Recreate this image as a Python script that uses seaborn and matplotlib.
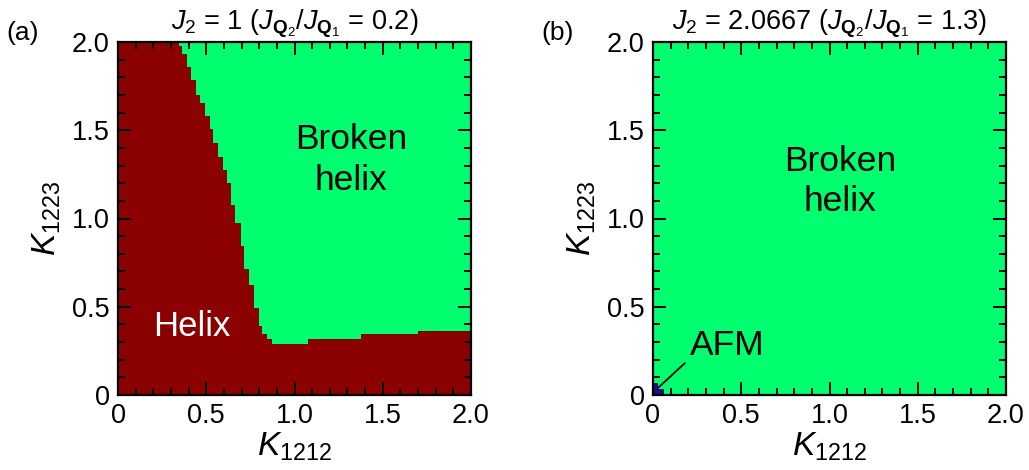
import numpy as np
import pandas as pd
import matplotlib
matplotlib.use("Agg")
import matplotlib.pyplot as plt
import seaborn as sns
from matplotlib.colors import ListedColormap
from matplotlib.ticker import FixedLocator

# panel (a): helix / broken-helix staircase boundary
# top edge (K1223) of each band, and how far the helix reaches in K1212 in that band
slope_y_top = [2.0, 1.977, 1.93, 1.86, 1.785, 1.70, 1.654, 1.58, 1.507, 1.428, 1.35,
               1.275, 1.20, 1.076, 0.976, 0.844, 0.714, 0.623, 0.493, 0.39, 0.344, 0.317]
slope_x = [0.345, 0.36, 0.39, 0.414, 0.44, 0.465, 0.493, 0.52, 0.54, 0.566, 0.595,
           0.617, 0.638, 0.667, 0.695, 0.714, 0.742, 0.77, 0.799, 0.816, 0.844, 0.873]
# helix floor along K1212 (right edge of each segment, height of helix below it)
floor_x_right = [1.075, 1.375, 1.70, 2.0]
floor_y = [0.29, 0.317, 0.345, 0.362]

# panel (b): small AFM corner
afm_y_top = [0.035, 0.07]
afm_x = [0.06, 0.03]

tick_vals = [0, 0.5, 1.0, 1.5, 2.0]
tick_labels = ["0", "0.5", "1.0", "1.5", "2.0"]
titles = [r"$J_2$ = 1 ($J_{\mathbf{Q}_2}/J_{\mathbf{Q}_1}$ = 0.2)",
          r"$J_2$ = 2.0667 ($J_{\mathbf{Q}_2}/J_{\mathbf{Q}_1}$ = 1.3)"]
panel_tags = ["(a)", "(b)"]

# phase codes: 0 helix, 1 broken helix, 2 AFM
phase_colors = ["#8b0000", "#00ff6e", "#1c0c82"]

STEP = 0.005
N = int(round(2.0 / STEP))
centers = (np.arange(N) + 0.5) * STEP
S = N / 2.0  # data -> heatmap cell coordinates


def grid_a():
    tops = np.array(slope_y_top)
    g = np.ones((N, N), dtype=int)
    for i, y in enumerate(centers):
        band = max(int(np.sum(tops >= y)) - 1, 0)
        for j, x in enumerate(centers):
            seg = min(int(np.searchsorted(floor_x_right, x)), len(floor_y) - 1)
            if x < slope_x[band] or y < floor_y[seg]:
                g[i, j] = 0
    return pd.DataFrame(g, index=centers, columns=centers)


def grid_b():
    g = np.ones((N, N), dtype=int)
    for i, y in enumerate(centers):
        for top, xr in zip(afm_y_top, afm_x):
            if y < top:
                g[i, centers < xr] = 2
                break
    return pd.DataFrame(g, index=centers, columns=centers)


sns.set_theme(style="white")
plt.rcParams["font.family"] = ["Liberation Sans", "DejaVu Sans"]
plt.rcParams["mathtext.fontset"] = "custom"
plt.rcParams["mathtext.rm"] = "Liberation Sans"
plt.rcParams["mathtext.it"] = "Liberation Sans:italic"
plt.rcParams["mathtext.bf"] = "Liberation Sans:bold"
for key in ["text.color", "axes.labelcolor", "xtick.color", "ytick.color"]:
    plt.rcParams[key] = "black"

fig = plt.figure(figsize=(10.29, 4.70), dpi=100)
W, H = 1029, 470
ax_a = fig.add_axes([118 / W, (H - 395) / H, 353 / W, 353 / H])
ax_b = fig.add_axes([653 / W, (H - 395) / H, 353 / W, 353 / H])

cmap = ListedColormap(phase_colors)

for ax, data, title, tag in zip([ax_a, ax_b], [grid_a(), grid_b()], titles, panel_tags):
    sns.heatmap(data, cmap=cmap, vmin=-0.5, vmax=2.5, cbar=False, ax=ax,
                xticklabels=False, yticklabels=False, rasterized=True)
    ax.set_axisbelow(False)
    ax.set_xlim(0, N)
    ax.set_ylim(0, N)
    for sp in ax.spines.values():
        sp.set_visible(True)
        sp.set_color("black")
        sp.set_linewidth(1.6)
    ax.set_xticks([v * S for v in tick_vals])
    ax.set_xticklabels(tick_labels)
    ax.set_yticks([v * S for v in tick_vals])
    ax.set_yticklabels(tick_labels, rotation=0)
    minor = [k * 0.1 * S for k in range(21)]
    ax.xaxis.set_minor_locator(FixedLocator(minor))
    ax.yaxis.set_minor_locator(FixedLocator(minor))
    ax.tick_params(which="both", direction="in", top=True, right=True,
                   bottom=True, left=True, color="black", width=1.4)
    ax.tick_params(which="major", length=9.5, labelsize=19.5, pad=6)
    ax.tick_params(which="minor", length=5)
    ax.set_xlabel(r"$K_{1212}$", fontsize=24, labelpad=1)
    ax.set_ylabel(r"$K_{1223}$", fontsize=24, labelpad=6)
    ax.set_title(title, fontsize=19.5, pad=9)
    ax.text(-0.315, 1.025, tag, transform=ax.transAxes, fontsize=19,
            ha="left", va="center")

ax_a.text(1.32 * S, 1.33 * S, "Broken\nhelix", fontsize=25.5, ha="center",
          va="center", linespacing=1.3)
ax_a.text(0.42 * S, 0.39 * S, "Helix", fontsize=25, ha="center", va="center",
          color="white")
ax_b.text(1.06 * S, 1.21 * S, "Broken\nhelix", fontsize=25.5, ha="center",
          va="center", linespacing=1.3)
ax_b.text(0.42 * S, 0.28 * S, "AFM", fontsize=25.5, ha="center", va="center")
ax_b.annotate("", xy=(0.028 * S, 0.04 * S), xytext=(0.181 * S, 0.181 * S),
              arrowprops=dict(arrowstyle="-", color="black", lw=1.3,
                              shrinkA=0, shrinkB=0))

fig.savefig("out.png", dpi=100)
